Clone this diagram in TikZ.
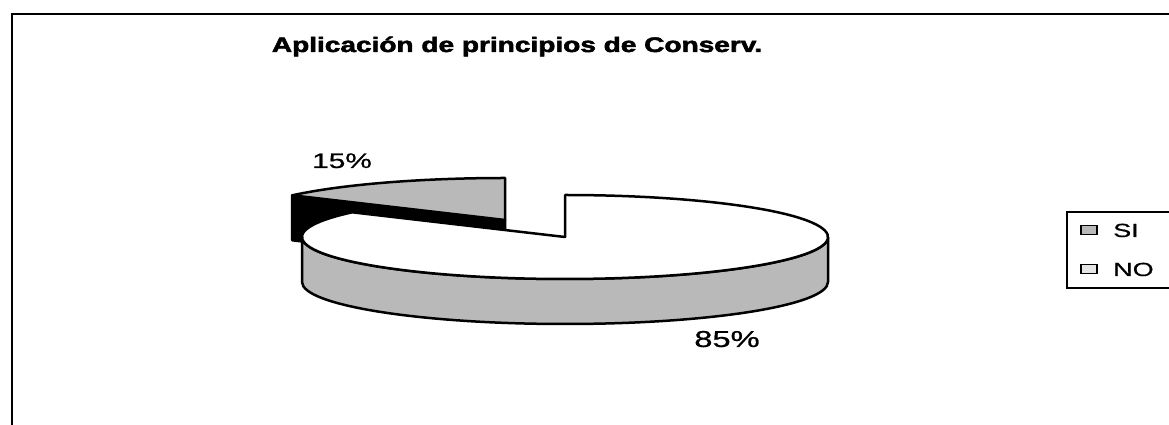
\documentclass[tikz,border=0pt]{standalone}
\usepackage{fontspec}
\setmainfont{Liberation Sans}
\newfontfamily\titlefont[FakeBold=2.2]{Liberation Sans Bold}
\newfontfamily\lblfont[FakeBold=0.6]{Liberation Sans}
\usetikzlibrary{calc}
\newcommand{\stretchtxt}[1]{\scalebox{1.42}[1]{#1}}

\begin{document}
\begin{tikzpicture}[x=1pt, y=1pt]
    \def\rx{263}
    \def\ry{42}
    \def\h{45}
    \tikzset{edge/.style={line width=2.5pt, line join=round},
             lbl/.style={font=\lblfont\fontsize{21}{21}\selectfont, inner sep=0pt, anchor=base},
             key/.style={draw, line width=1.8pt, minimum width=16pt, minimum height=9pt, inner sep=0pt}}
    \useasboundingbox (0,0) rectangle (1169,425);
    \draw[line width=1.6pt] (12,0) -- (12,411) -- (1169,411);

    \node[font=\titlefont\fontsize{21}{21}\selectfont, inner sep=0pt, anchor=base] (title) at (517,373)
        {\scalebox{1.335}[1]{Aplicación de principios de Conserv.}};

    \coordinate (c) at (565,188);
    \coordinate (cs) at (505,205);

    % SI slice, pulled out
    \draw[edge, fill=black] (cs) -- ++(144:{\rx} and {\ry}) -- ++(0,-\h) -- ($(cs)+(0,-\h)$) -- cycle;
    \draw[edge, fill=gray!55] (cs) -- ++(0,\ry) arc[start angle=90, end angle=144, x radius=\rx, y radius=\ry] -- cycle;

    % NO slice
    \draw[edge, fill=gray!55] (c) ++(-\rx,0) arc[start angle=180, end angle=360, x radius=\rx, y radius=\ry]
        -- ++(0,-\h) arc[start angle=360, end angle=180, x radius=\rx, y radius=\ry] -- cycle;
    \draw[edge, fill=white] (c) -- ++(144:{\rx} and {\ry}) arc[start angle=144, end angle=450, x radius=\rx, y radius=\ry] -- cycle;

    \node[lbl] (si) at (342,257) {\stretchtxt{15\%}};
    \node[lbl, font=\lblfont\fontsize{23}{23}\selectfont] (no) at (727,78) {\stretchtxt{85\%}};

    % legend
    \draw[line width=1.2pt] (1067,137) rectangle (1175,213);
    \node[key, fill=gray!55] (ksi) at (1089,195) {};
    \node[key, fill=gray!20] (kno) at (1089,156) {};
    \node[lbl, anchor=base west, font=\lblfont\fontsize{19}{19}\selectfont] (tsi) at (1113,188) {\stretchtxt{SI}};
    \node[lbl, anchor=base west, font=\lblfont\fontsize{19}{19}\selectfont] (tno) at (1113,149) {\stretchtxt{NO}};
\end{tikzpicture}
\end{document}
